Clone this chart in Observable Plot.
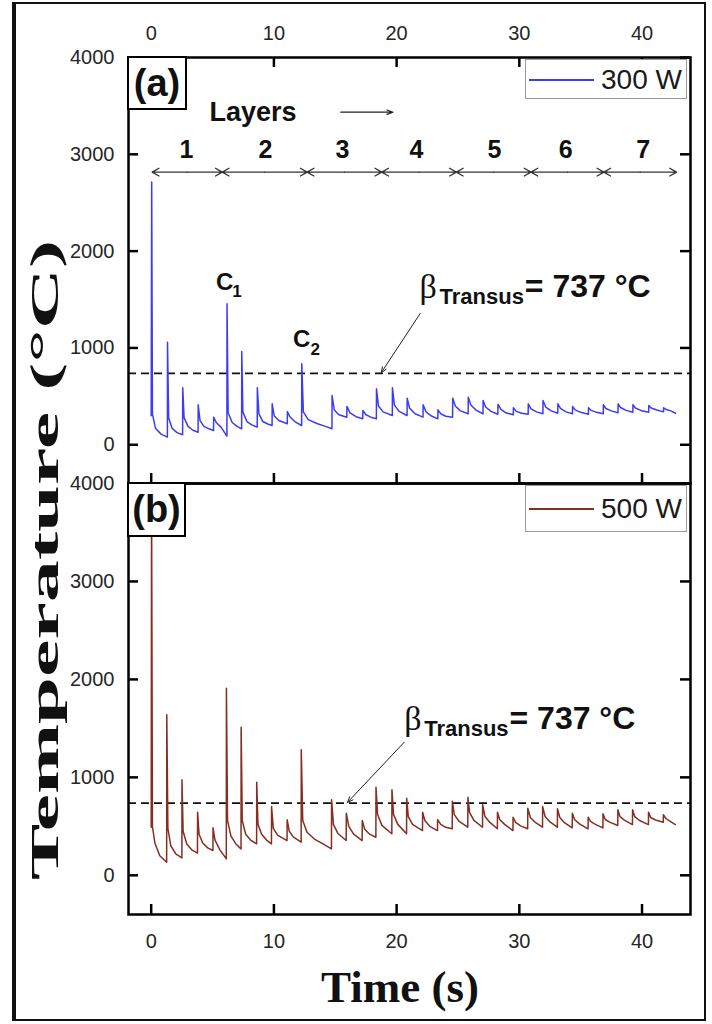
<!DOCTYPE html>
<html><head><meta charset="utf-8">
<script src="https://cdn.jsdelivr.net/npm/d3@7"></script>
<script src="https://cdn.jsdelivr.net/npm/@observablehq/plot@0.6"></script>
<style>
body{margin:0;background:#fff;}
#page{position:relative;width:712px;height:1024px;overflow:hidden;font-family:"Liberation Sans",Arial,sans-serif;background:#fff;}
#page svg{position:absolute;left:0;top:0;}
.frameOuter{position:absolute;left:12px;top:2px;width:694px;height:1019px;box-sizing:border-box;border:2px solid #111;border-left:4px solid #111;}
.tag{position:absolute;box-sizing:border-box;border:2px solid #000;background:#fff;display:flex;align-items:center;justify-content:center;font-weight:bold;font-size:38px;color:#111;}
.legend{position:absolute;box-sizing:border-box;border:1px solid #9a9a9a;background:#fff;}
.legend .sw{position:absolute;left:3px;width:65px;height:0;border-top:2px solid;}
.legend .lt{position:absolute;left:75px;font-size:28px;color:#1a1a1a;line-height:1;}
</style></head><body><div id="page"><div class="frameOuter"></div></div>
<script>
// ---------- data ----------
const xTicks = [0, 10, 20, 30, 40];
const yTicks = [0, 1000, 2000, 3000, 4000];
const betaTransus = 737;
const layerLabels = ["1", "2", "3", "4", "5", "6", "7"];
const layerLabelTimes = [2.88, 9.32, 15.58, 21.62, 27.98, 33.77, 40.1];
const layerBounds = [0.08, 5.79, 12.71, 18.79, 24.87, 30.95, 36.89, 42.81];

// 300 W : [time (s), temperature (°C)]
const series300 = [
[0,300],[0.04,2713],[0.1,320],[0.35,170],[0.8,110],[1.32,79],
[1.33,1060],[1.42,280],[1.7,170],[2.1,125],[2.56,103],
[2.57,589],[2.68,280],[3.0,190],[3.4,150],[3.82,130],
[3.83,413],[3.98,250],[4.3,190],[4.7,165],[5.08,148],
[5.09,285],[5.3,230],[5.7,180],[6.17,90],
[6.18,1456],[6.27,330],[6.6,230],[7.0,190],[7.37,165],
[7.38,963],[7.47,340],[7.8,240],[8.2,205],[8.64,182],
[8.65,589],[8.78,320],[9.1,240],[9.5,215],[9.85,199],
[9.86,423],[10.02,300],[10.4,250],[11.09,217],
[11.1,344],[11.3,290],[11.7,240],[12.26,199],
[12.27,836],[12.4,340],[12.8,260],[13.5,220],[14.2,190],[14.73,165],
[14.74,509],[14.92,360],[15.3,310],[15.94,285],
[15.95,396],[16.2,330],[16.7,290],[17.24,268],
[17.25,354],[17.5,310],[17.9,285],[18.35,268],
[18.36,578],[18.52,400],[18.9,340],[19.65,302],
[19.66,589],[19.82,410],[20.2,345],[20.85,302],
[20.86,481],[21.05,380],[21.5,320],[22.15,285],
[22.16,413],[22.4,340],[22.8,300],[23.36,268],
[23.37,361],[23.6,320],[24.0,295],[24.56,285],
[24.57,481],[24.78,400],[25.2,350],[25.83,320],
[25.84,492],[26.05,410],[26.5,355],[27.04,320],
[27.05,457],[27.25,390],[27.7,345],[28.25,315],
[28.26,416],[28.5,365],[28.9,330],[29.51,310],
[29.52,382],[29.75,345],[30.2,325],[30.72,315],
[30.73,423],[30.95,370],[31.4,340],[31.92,320],
[31.93,457],[32.15,390],[32.6,350],[33.13,325],
[33.14,423],[33.35,375],[33.8,340],[34.33,320],
[34.34,396],[34.55,360],[35.0,335],[35.63,315],
[35.64,382],[35.85,355],[36.3,335],[36.84,320],
[36.85,413],[37.05,375],[37.5,350],[38.04,330],
[38.05,423],[38.25,385],[38.7,355],[39.25,335],
[39.26,413],[39.46,380],[39.9,355],[40.54,335],
[40.55,406],[40.75,380],[41.2,360],[41.75,340],
[41.76,382],[41.96,365],[42.35,350],[42.73,326]
];

// 500 W : [time (s), temperature (°C)]
const series500 = [
[0,491],[0.03,3900],[0.1,500],[0.3,330],[0.7,200],[1.26,134],
[1.27,1638],[1.36,480],[1.6,300],[2.0,220],[2.5,178],
[2.51,975],[2.6,450],[2.9,320],[3.3,260],[3.77,226],
[3.78,645],[3.9,420],[4.2,330],[4.6,280],[5.03,253],
[5.04,485],[5.2,360],[5.6,260],[6.12,168],
[6.13,1910],[6.22,560],[6.5,400],[6.9,320],[7.32,270],
[7.33,1512],[7.42,560],[7.7,420],[8.1,360],[8.59,321],
[8.6,951],[8.7,520],[9.0,420],[9.4,360],[9.8,321],
[9.81,702],[9.95,480],[10.3,410],[11.07,355],
[11.08,567],[11.25,450],[11.6,390],[12.22,338],
[12.23,1281],[12.35,560],[12.7,440],[13.3,370],[14.0,320],[14.69,270],
[14.7,771],[14.85,520],[15.2,430],[15.89,355],
[15.9,634],[16.1,500],[16.5,420],[17.19,355],
[17.2,559],[17.4,470],[17.8,420],[18.31,389],
[18.32,899],[18.45,620],[18.8,510],[19.61,424],
[19.62,873],[19.75,620],[20.1,520],[20.81,424],
[20.82,787],[20.95,600],[21.3,520],[22.11,457],
[22.12,645],[22.3,560],[22.7,500],[23.33,457],
[23.34,567],[23.6,520],[24.0,490],[24.53,475],
[24.54,757],[24.7,620],[25.1,550],[25.8,491],
[25.81,797],[25.95,640],[26.3,560],[27.0,491],
[27.01,720],[27.2,600],[27.6,540],[28.21,475],
[28.22,645],[28.4,570],[28.8,520],[29.48,457],
[29.49,593],[29.7,540],[30.1,505],[30.68,475],
[30.69,685],[30.9,590],[31.3,540],[31.89,491],
[31.9,702],[32.1,600],[32.5,545],[33.1,491],
[33.11,679],[33.3,590],[33.7,535],[34.31,484],
[34.32,634],[34.5,570],[34.9,525],[35.6,475],
[35.61,593],[35.8,550],[36.2,520],[36.81,484],
[36.82,628],[37.0,570],[37.4,540],[38.02,508],
[38.03,669],[38.2,600],[38.6,560],[39.22,518],
[39.23,669],[39.4,600],[39.8,560],[40.52,518],
[40.53,645],[40.7,590],[41.1,565],[41.73,542],
[41.74,618],[41.95,580],[42.3,550],[42.71,518]
];

// ---------- layout / style ----------
const SANS = "Liberation Sans, Arial, sans-serif";
const SERIF = "Liberation Serif, Times New Roman, serif";
const W = 712, ML = 128, MR = 22;
const xDomain = [-1.85, 43.95];
const yDomain = [-400, 4000];
const INK = "#111";

function betaMarks(a) {
  return [
    Plot.text([a.beta], {x: "t", y: "v", text: () => "β", fontFamily: SERIF, fontSize: 34, textAnchor: "start", fill: INK}),
    Plot.text([a.sub], {x: "t", y: "v", text: () => "Transus", fontFamily: SANS, fontWeight: "bold", fontSize: 22, textAnchor: "start", fill: INK}),
    Plot.text([a.main], {x: "t", y: "v", text: () => "= " + betaTransus + " °C", fontFamily: SANS, fontWeight: "bold", fontSize: 32, textAnchor: "start", fill: INK}),
    Plot.arrow([a.arrow], {x1: "t1", y1: "v1", x2: "t2", y2: "v2", stroke: "#222", strokeWidth: 1, headLength: 9, headAngle: 45})
  ];
}

function panel({series, color, height, marginTop, marginBottom, top, extra}) {
  const plotH = height - marginTop - marginBottom;
  const plotW = W - ML - MR;
  const tickStyle = {stroke: "#000", strokeWidth: 2.5};
  const marks = [
    Plot.ruleY([betaTransus], {stroke: INK, strokeWidth: 1.6, strokeDasharray: "8,5"}),
    Plot.line(series, {x: d => d[0], y: d => d[1], stroke: color, strokeWidth: 1.5}),
    Plot.tickX(xTicks, {x: d => d, insetTop: plotH - 10, ...tickStyle}),
    Plot.tickY(yTicks, {y: d => d, insetRight: plotW - 10, ...tickStyle}),
    Plot.tickY(yTicks, {y: d => d, insetLeft: plotW - 10, ...tickStyle}),
    Plot.frame({stroke: "#000", strokeWidth: 2.5}),
    Plot.axisY({anchor: "left", ticks: yTicks, tickSize: 0, tickPadding: 14, fontSize: 20, fill: "#262626", label: null, tickFormat: d3.format("d")})
  ];
  if (top) {
    marks.push(Plot.tickX(xTicks, {x: d => d, insetBottom: plotH - 10, ...tickStyle}));
    marks.push(Plot.axisX({anchor: "top", ticks: xTicks, tickSize: 0, tickPadding: 18, fontSize: 20, fill: "#262626", label: null, tickFormat: d3.format("d")}));
  } else {
    marks.push(Plot.axisX({anchor: "bottom", ticks: xTicks, tickSize: 0, tickPadding: 19, fontSize: 20, fill: "#262626", label: null, tickFormat: d3.format("d")}));
  }
  marks.push(...extra);
  return Plot.plot({
    width: W, height, marginLeft: ML, marginRight: MR, marginTop, marginBottom,
    x: {domain: xDomain}, y: {domain: yDomain},
    style: {background: "transparent", fontFamily: SANS, fontSize: "20px", overflow: "visible"},
    marks
  });
}

// layer arrows (double-headed: two arrows from each segment's midpoint)
const layerArrowY = 2816;
const layerSegs = [];
for (let i = 0; i < layerBounds.length - 1; i++) {
  const a = layerBounds[i], b = layerBounds[i + 1], m = (a + b) / 2;
  layerSegs.push({t1: m, t2: a}, {t1: m, t2: b});
}
const layerText = layerLabels.map((s, i) => ({t: layerLabelTimes[i], label: s}));

const extraA = [
  Plot.arrow(layerSegs, {x1: "t1", x2: "t2", y1: () => layerArrowY, y2: () => layerArrowY, stroke: "#333", strokeWidth: 1.3, headLength: 9, headAngle: 60}),
  Plot.text(layerText, {x: "t", y: () => 3040, text: "label", fontFamily: SANS, fontWeight: "bold", fontSize: 25, fill: INK}),
  Plot.text([{t: 8.3, v: 3430}], {x: "t", y: "v", text: () => "Layers", fontFamily: SANS, fontWeight: "bold", fontSize: 27, fill: INK}),
  Plot.arrow([{t1: 15.45, t2: 19.7, v: 3435}], {x1: "t1", x2: "t2", y1: "v", y2: "v", stroke: "#222", strokeWidth: 1.2, headLength: 8, headAngle: 40}),
  Plot.text([{t: 5.98, v: 1681}, {t: 12.26, v: 1093}], {x: "t", y: "v", text: () => "C", fontFamily: SANS, fontWeight: "bold", fontSize: 24, fill: INK}),
  Plot.text([{t: 6.6, v: 1578, s: "1"}, {t: 12.98, v: 979, s: "2"}], {x: "t", y: "v", text: "s", fontFamily: SANS, fontWeight: "bold", fontSize: 17, textAnchor: "start", fill: INK}),
  ...betaMarks({beta: {t: 21.87, v: 1624}, sub: {t: 23.5, v: 1527}, main: {t: 30.45, v: 1630}, arrow: {t1: 21.92, v1: 1356, t2: 18.75, v2: 745}})
];
const extraB = [
  ...betaMarks({beta: {t: 20.62, v: 1590}, sub: {t: 22.25, v: 1494}, main: {t: 29.2, v: 1596}, arrow: {t1: 20.62, v1: 1359, t2: 16.0, v2: 745}})
];

const page = document.getElementById("page");
page.appendChild(panel({series: series500, color: "#852e22", height: 1000, marginTop: 483, marginBottom: 86, top: false, extra: extraB}));
page.appendChild(panel({series: series300, color: "#3c3cf5", height: 490, marginTop: 57, marginBottom: 7, top: true, extra: extraA}));

// titles
const ns = "http://www.w3.org/2000/svg";
const tsvg = document.createElementNS(ns, "svg");
tsvg.setAttribute("width", 712); tsvg.setAttribute("height", 1024);
tsvg.style.pointerEvents = "none";
const yt = document.createElementNS(ns, "text");
yt.setAttribute("transform", "translate(58,560) rotate(-90)");
yt.setAttribute("text-anchor", "middle");
yt.setAttribute("font-family", SERIF);
yt.setAttribute("font-weight", "bold");
yt.setAttribute("font-size", 41);
yt.setAttribute("textLength", 640);
yt.setAttribute("lengthAdjust", "spacingAndGlyphs");
yt.setAttribute("fill", INK);
yt.textContent = "Temperature (°C)";
tsvg.appendChild(yt);
const xt = document.createElementNS(ns, "text");
xt.setAttribute("x", 400); xt.setAttribute("y", 1002);
xt.setAttribute("text-anchor", "middle");
xt.setAttribute("font-family", SERIF);
xt.setAttribute("font-weight", "bold");
xt.setAttribute("font-size", 45);
xt.setAttribute("fill", INK);
xt.textContent = "Time (s)";
tsvg.appendChild(xt);
page.appendChild(tsvg);

// panel tags and legends
function addDiv(cls, css, html) {
  const d = document.createElement("div");
  d.className = cls; d.style.cssText = css; d.innerHTML = html;
  page.appendChild(d);
}
addDiv("tag", "left:127px;top:56px;width:60px;height:54px;", "(a)");
addDiv("tag", "left:127px;top:482px;width:59px;height:55px;", "(b)");
addDiv("legend", "left:525px;top:59px;width:162px;height:40px;",
  '<div class="sw" style="top:19px;border-color:#3c3cf5"></div><div class="lt" style="top:6px">300 W</div>');
addDiv("legend", "left:525px;top:485px;width:162px;height:47px;",
  '<div class="sw" style="top:22px;border-color:#852e22"></div><div class="lt" style="top:9px">500 W</div>');
</script></body></html>
